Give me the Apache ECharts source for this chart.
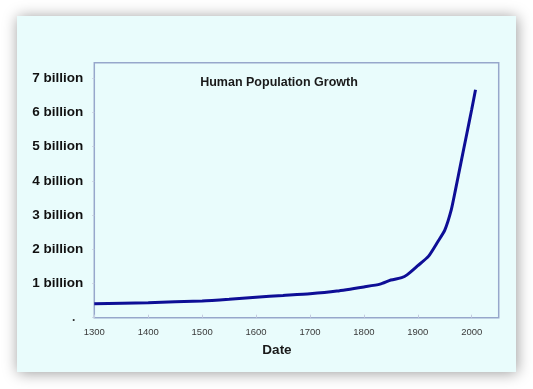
<!DOCTYPE html>
<html>
<head>
<meta charset="utf-8">
<script src="https://cdn.jsdelivr.net/npm/echarts@6/dist/echarts.min.js"></script>
<style>
html,body{margin:0;padding:0;background:#ffffff;}
#chart{width:533px;height:389px;}
</style>
</head>
<body>
<div id="chart"></div>
<script>
const years = [1300, 1400, 1500, 1550, 1600, 1650, 1700, 1750, 1800, 1830, 1850, 1870, 1880, 1900, 1920, 1937, 1950, 1962, 1970, 1980, 1990, 2000, 2007];
const population = [0.41, 0.44, 0.49, 0.54, 0.60, 0.65, 0.70, 0.78, 0.90, 0.98, 1.10, 1.17, 1.25, 1.52, 1.80, 2.22, 2.56, 3.15, 3.75, 4.53, 5.31, 6.09, 6.66];
const yTickLabels = ['.', '1 billion', '2 billion', '3 billion', '4 billion', '5 billion', '6 billion', '7 billion'];
const chartTitle = 'Human Population Growth';
const xTitle = 'Date';

const FONT = '"Liberation Sans", Arial, sans-serif';
const chart = echarts.init(document.getElementById('chart'));
chart.setOption({
  animation: false,
  backgroundColor: '#ffffff',
  graphic: [
    { type: 'rect', z: -10, shape: { x: 17, y: 16, width: 499, height: 356 },
      style: { fill: '#e9fcfc', shadowBlur: 14, shadowColor: 'rgba(0,0,0,0.4)', shadowOffsetX: 1, shadowOffsetY: 1 } },
    { type: 'text', x: 279, y: 83, style: { text: chartTitle, textAlign: 'center', textVerticalAlign: 'middle',
      font: 'bold 12.5px ' + FONT, fill: '#1a1a1a' } },
    { type: 'text', x: 277, y: 350, style: { text: xTitle, textAlign: 'center', textVerticalAlign: 'middle',
      font: 'bold 13.5px ' + FONT, fill: '#1a1a1a' } }
  ],
  grid: { left: 94.3, right: 34.3, top: 62.7, bottom: 71.3, show: true, borderColor: '#97a7cb', borderWidth: 1.5, backgroundColor: 'transparent' },
  xAxis: {
    type: 'value', min: 1300, max: 2050, interval: 100,
    axisLine: { show: false },
    axisTick: { show: true, inside: true, length: 3, lineStyle: { color: '#c5cde0' } },
    splitLine: { show: false },
    axisLabel: { showMaxLabel: false, margin: 10, fontSize: 9.5, fontFamily: FONT, color: '#3a3a3a',
      formatter: function (v) { return String(v); } }
  },
  yAxis: {
    type: 'value', min: 0, max: 7.45, interval: 1,
    axisLine: { show: false },
    axisTick: { show: true, inside: false, length: 2, lineStyle: { color: '#c5cde0' } },
    splitLine: { show: false },
    axisLabel: {
      showMaxLabel: false, margin: 11, fontSize: 13.5, fontWeight: 'bold', fontFamily: FONT, color: '#111111',
      formatter: function (v) { const i = Math.round(v); return i === 0 ? '{dot|' + yTickLabels[0] + '}' : yTickLabels[i]; },
      rich: { dot: { padding: [0, 8, 0, 0], fontSize: 12, color: '#333' } }
    }
  },
  series: [{
    type: 'line',
    data: years.map((y, i) => [y, population[i]]),
    smooth: 0.2,
    showSymbol: false,
    lineStyle: { color: '#0e0e96', width: 3 }
  }]
});
</script>
</body>
</html>
